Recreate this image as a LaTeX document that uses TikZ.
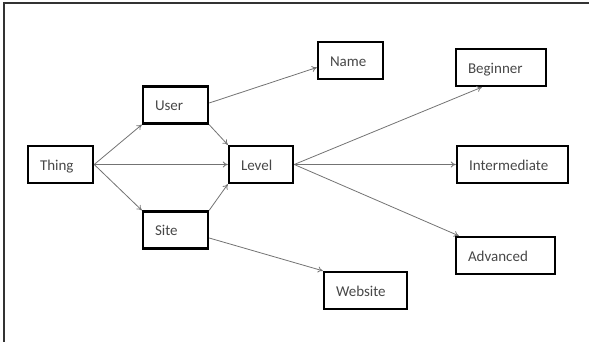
\documentclass[tikz,border=0pt]{standalone}
\usepackage{fontspec}
\setmainfont{Carlito}
\usetikzlibrary{arrows.meta,calc}
\begin{document}
\begin{tikzpicture}[x=1pt,y=-1pt,
  box/.style={draw=black,line width=2.4pt,minimum height=37pt,inner xsep=12pt,inner ysep=0pt,
    text height=13pt,text depth=1pt,
    align=left,font=\fontsize{15}{17}\selectfont,text=black!72},
  conn/.style={draw=black!55,line width=0.8pt,-{To[length=5pt,width=6pt]}},
  frame/.style={draw=black!80,line width=1.5pt}]
\useasboundingbox (0,0) rectangle (598,342);
\coordinate (ftl) at (4,3);
\coordinate (ftr) at (589,3);
\coordinate (fbl) at (4,342);
\draw[frame] (fbl) -- (ftl) -- (ftr);
\node[box,text width=41pt] (thing) at (60.5,164.5) {Thing};
\node[box,text width=41pt] (user) at (175.5,105) {User};
\node[box,text width=40pt] (level) at (261,164.5) {Level};
\node[box,text width=41pt] (site) at (175.5,230) {Site};
\node[box,text width=41pt] (name) at (350.5,60.5) {Name};
\node[box,text width=66pt] (beg) at (501,67.5) {Beginner};
\node[box,text width=87pt] (inter) at (512.5,164.5) {Intermediate};
\node[box,text width=75pt] (adv) at (505.5,255.5) {Advanced};
\node[box,text width=59pt] (web) at (365.5,290.5) {Website};
\draw[conn] (thing.east) -- (user.south west);
\draw[conn] (thing.east) -- (level.west);
\draw[conn] (thing.east) -- (site.north west);
\draw[conn] (user.south east) -- (level.north west);
\draw[conn] (site.north east) -- (level.south west);
\draw[conn] ($(user.east)+(0,-2)$) -- ($(name.west)+(0,7)$);
\draw[conn] (level.east) -- ($(beg.south west)+(27,0)$);
\draw[conn] (level.east) -- (inter.west);
\draw[conn] (level.east) -- ($(adv.north west)+(4,0)$);
\draw[conn] ($(site.east)+(0,8)$) -- (web.north west);
\end{tikzpicture}
\end{document}
